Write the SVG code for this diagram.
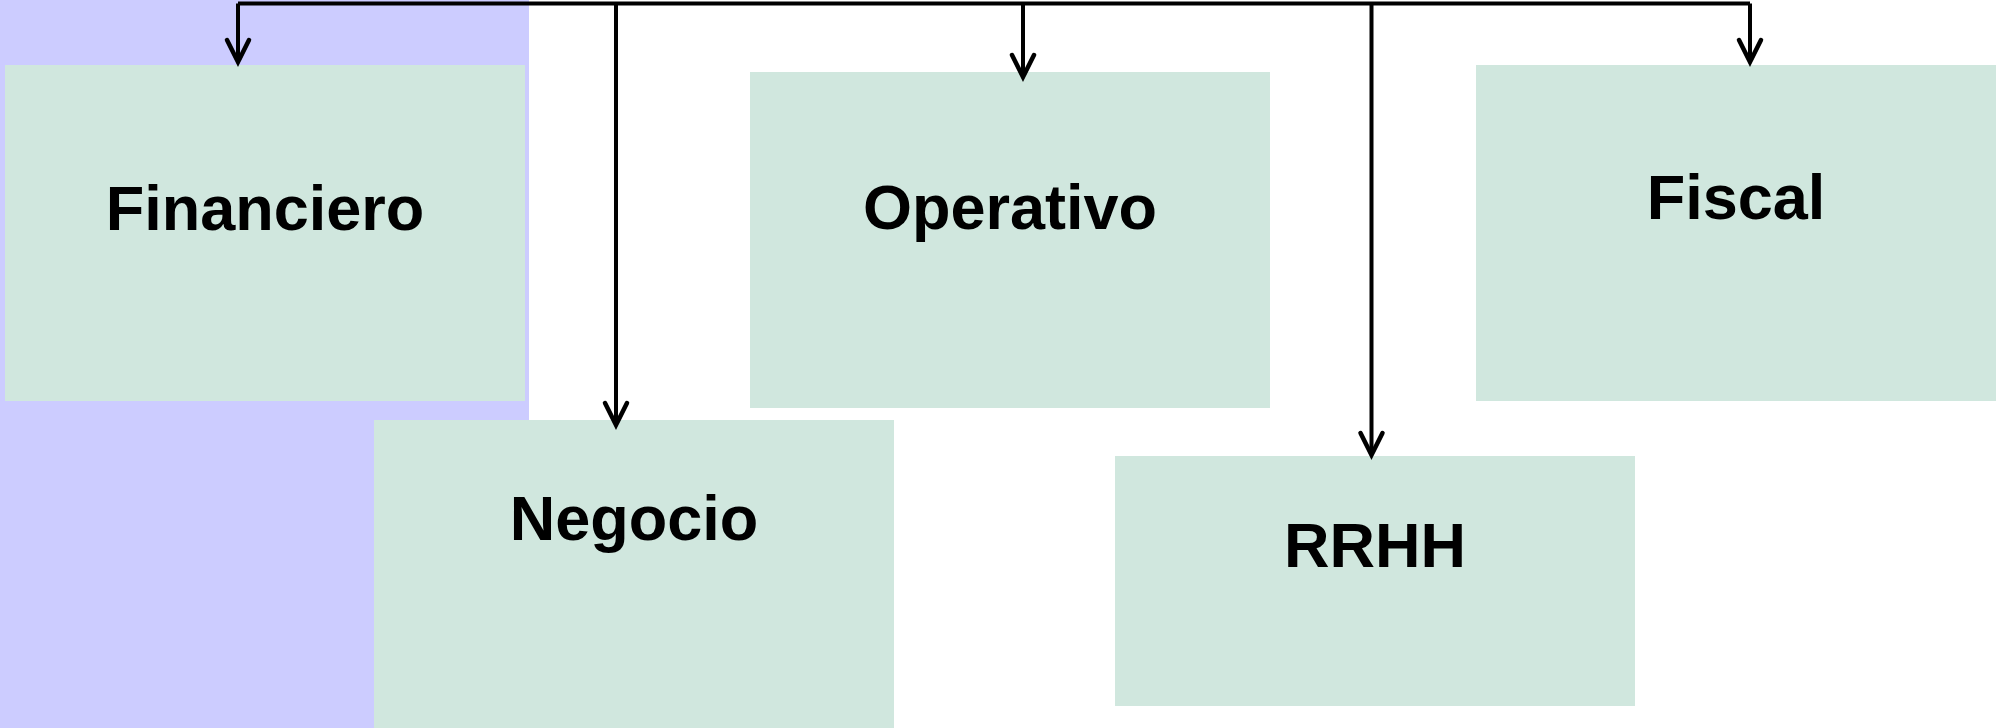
<svg xmlns="http://www.w3.org/2000/svg" width="1997" height="728" viewBox="0 0 1997 728">
<style>
.box{fill:#D0E7DE}
.lbl{font-family:"Liberation Sans",Arial,sans-serif;font-weight:bold;font-size:63px;fill:#000;text-anchor:middle}
.con{fill:none;stroke:#000;stroke-width:4}
</style>
<defs>
<marker id="arr" markerUnits="userSpaceOnUse" markerWidth="30" markerHeight="30" refX="0" refY="0" orient="auto" overflow="visible">
<path d="M-22,-11 L0,0 L-22,11" fill="none" stroke="#000" stroke-width="4.5" stroke-linecap="round" stroke-linejoin="miter"/>
</marker>
</defs>
<rect id="background" x="0" y="0" width="529" height="728" fill="#CCCCFF"/>
<g id="financiero">
<rect class="box" x="5" y="65" width="520" height="336"/>
<text class="lbl" x="265" y="230">Financiero</text>
</g>
<g id="negocio">
<rect class="box" x="374" y="420" width="520" height="308"/>
<text class="lbl" x="634" y="540">Negocio</text>
</g>
<g id="operativo">
<rect class="box" x="750" y="72" width="520" height="336"/>
<text class="lbl" x="1010" y="229">Operativo</text>
</g>
<g id="rrhh">
<rect class="box" x="1115" y="456" width="520" height="250"/>
<text class="lbl" x="1375" y="567">RRHH</text>
</g>
<g id="fiscal">
<rect class="box" x="1476" y="65" width="520" height="336"/>
<text class="lbl" x="1736" y="219">Fiscal</text>
</g>
<g id="connectors">
<path class="con" d="M238,3.5 H1750"/>
<path class="con" d="M238,3.5 V62" marker-end="url(#arr)"/>
<path class="con" d="M616,3.5 V425" marker-end="url(#arr)"/>
<path class="con" d="M1023,3.5 V77" marker-end="url(#arr)"/>
<path class="con" d="M1371.5,3.5 V455" marker-end="url(#arr)"/>
<path class="con" d="M1750,3.5 V62" marker-end="url(#arr)"/>
</g>
</svg>
